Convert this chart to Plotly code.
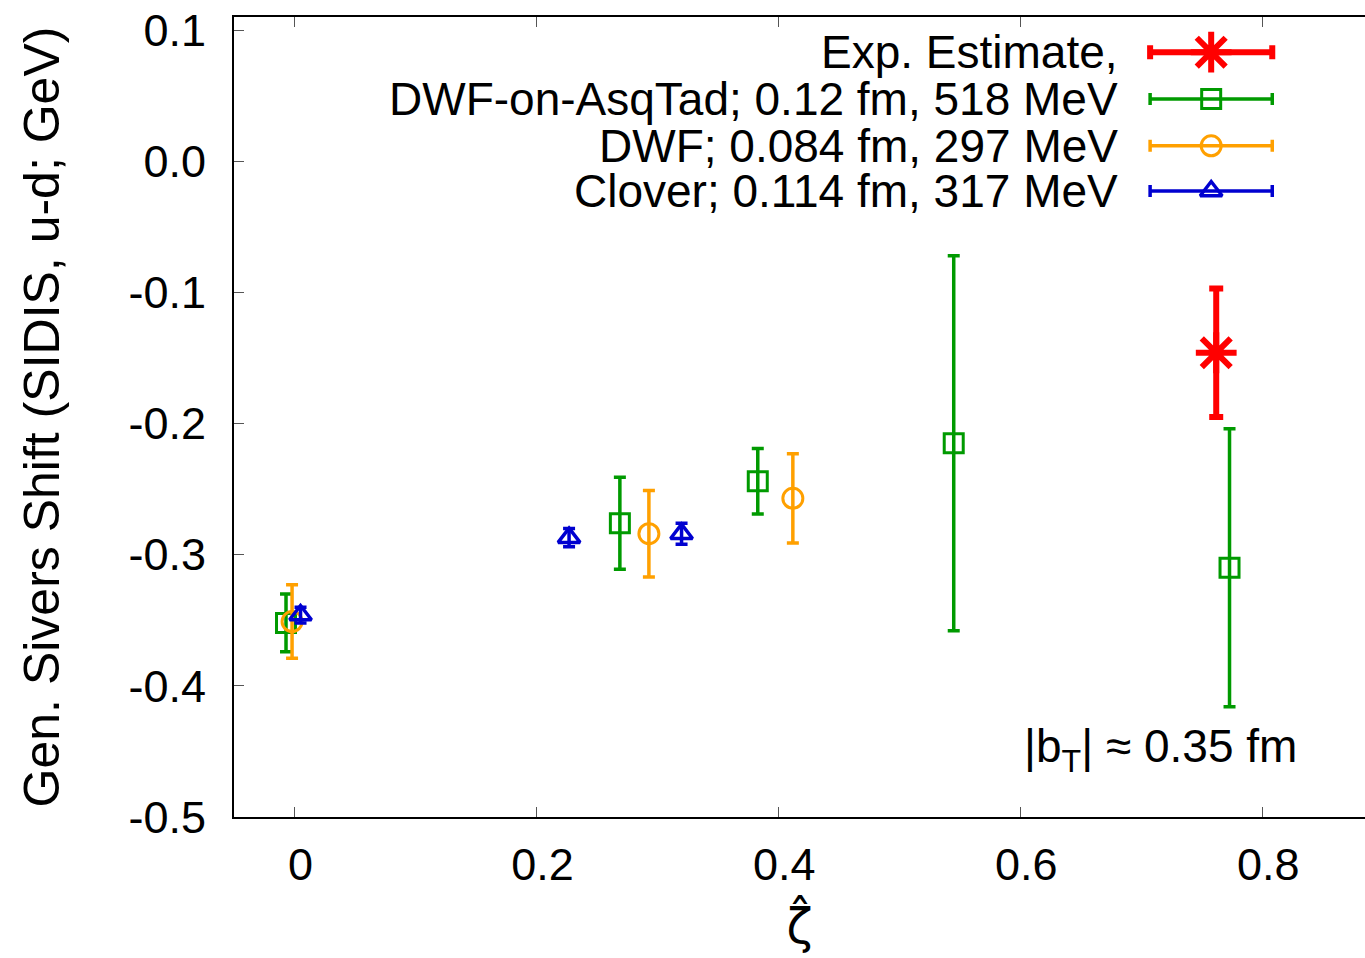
import plotly.graph_objects as go

# --- data ---
asq_zeta = [-0.007, 0.269, 0.383, 0.545, 0.773]
asq_shift = [-0.352, -0.276, -0.244, -0.215, -0.310]
asq_err = [0.022, 0.035, 0.025, 0.143, 0.106]

dwf_zeta = [-0.002, 0.293, 0.412]
dwf_shift = [-0.351, -0.284, -0.257]
dwf_err = [0.028, 0.033, 0.034]

clover_zeta = [0.005, 0.227, 0.320]
clover_shift = [-0.346, -0.287, -0.284]
clover_err = [0.006, 0.007, 0.008]

exp_zeta = [0.762]
exp_shift = [-0.146]
exp_err = [0.049]

x_ticks = [0, 0.2, 0.4, 0.6, 0.8]
x_ticktext = ['0', '0.2', '0.4', '0.6', '0.8']
y_ticks = [0.1, 0.0, -0.1, -0.2, -0.3, -0.4, -0.5]
y_ticktext = ['0.1', '0.0', '-0.1', '-0.2', '-0.3', '-0.4', '-0.5']

FONT = 'Liberation Sans'
GREEN = '#009a00'
ORANGE = '#ffa000'
BLUE = '#0000d0'
RED = '#ff0000'

series = [
    dict(name='Exp. Estimate,', x=exp_zeta, y=exp_shift, e=exp_err, color=RED,
         symbol='asterisk-open', size=34, lw=6, ew=6, cap=7),
    dict(name='DWF-on-AsqTad; 0.12 fm, 518 MeV', x=asq_zeta, y=asq_shift, e=asq_err,
         color=GREEN, symbol='square-open', size=19, lw=3, ew=3.5, cap=6),
    dict(name='DWF; 0.084 fm, 297 MeV', x=dwf_zeta, y=dwf_shift, e=dwf_err,
         color=ORANGE, symbol='circle-open', size=20, lw=3, ew=3.5, cap=6),
    dict(name='Clover; 0.114 fm, 317 MeV', x=clover_zeta, y=clover_shift, e=clover_err,
         color=BLUE, symbol='triangle-up-open', size=19, lw=3.5, ew=3.5, cap=6),
]

fig = go.Figure()

for s in series:
    fig.add_trace(go.Scatter(
        x=s['x'], y=s['y'], mode='markers', name=s['name'], showlegend=False,
        marker=dict(symbol=s['symbol'], size=s['size'], color=s['color'],
                    line=dict(color=s['color'], width=s['lw'])),
        error_y=dict(type='data', array=s['e'], visible=True, color=s['color'],
                     thickness=s['ew'], width=s['cap']),
    ))

# gnuplot-style key: text on the left, sample on the right
key_rows = [0.956, 0.8975, 0.839, 0.7825]
key_text_x = 0.7834
key_mid = 0.864
key_half = 0.054
for s, ky in zip(series, key_rows):
    fig.add_trace(go.Scatter(
        x=[key_mid], y=[ky], xaxis='x2', yaxis='y2', mode='markers', showlegend=False,
        marker=dict(symbol=s['symbol'], size=s['size'], color=s['color'],
                    line=dict(color=s['color'], width=s['lw'])),
        error_x=dict(type='constant', value=key_half, visible=True, color=s['color'],
                     thickness=s['ew'], width=s['cap']),
        hoverinfo='skip',
    ))
    fig.add_annotation(xref='paper', yref='paper', x=key_text_x, y=ky, text=s['name'],
                       showarrow=False, xanchor='right', yanchor='middle',
                       font=dict(family=FONT, size=46, color='black'))

fig.add_annotation(xref='paper', yref='paper', x=0.942, y=0.085,
                   text='|b<sub>T</sub>| ≈ 0.35 fm', showarrow=False,
                   xanchor='right', yanchor='middle',
                   font=dict(family=FONT, size=46, color='black'))

fig.update_layout(
    width=1365, height=958,
    margin=dict(l=234, r=0, t=17, b=141),
    plot_bgcolor='white', paper_bgcolor='white',
    font=dict(family=FONT, size=45, color='black'),
    xaxis=dict(
        range=[-0.05, 0.885], tickvals=x_ticks, ticktext=x_ticktext,
        ticks='inside', ticklen=10, tickcolor='#555555', tickwidth=1,
        showline=True, linecolor='black', linewidth=2, mirror='ticks',
        showgrid=False, zeroline=False, ticklabelstandoff=7, ticklabelshift=6,
        title=dict(text='ζ̂', font=dict(family='DejaVu Sans', size=48), standoff=20),
    ),
    yaxis=dict(
        range=[-0.5, 0.11], tickvals=y_ticks, ticktext=y_ticktext,
        ticks='inside', ticklen=10, tickcolor='#555555', tickwidth=1,
        showline=True, linecolor='black', linewidth=2,
        showgrid=False, zeroline=False, ticklabelstandoff=17,
        title=dict(text='Gen. Sivers Shift (SIDIS, u-d; GeV)',
                   font=dict(family=FONT, size=50), standoff=53),
    ),
    xaxis2=dict(range=[0, 1], overlaying='x', anchor='y2', visible=False),
    yaxis2=dict(range=[0, 1], overlaying='y', anchor='x2', visible=False),
)

# drop the page's default 8px body margin so the figure sits at the window corner
fig.write_html("out.html", config={'displayModeBar': False},
               post_script="document.body.style.margin='0';")
